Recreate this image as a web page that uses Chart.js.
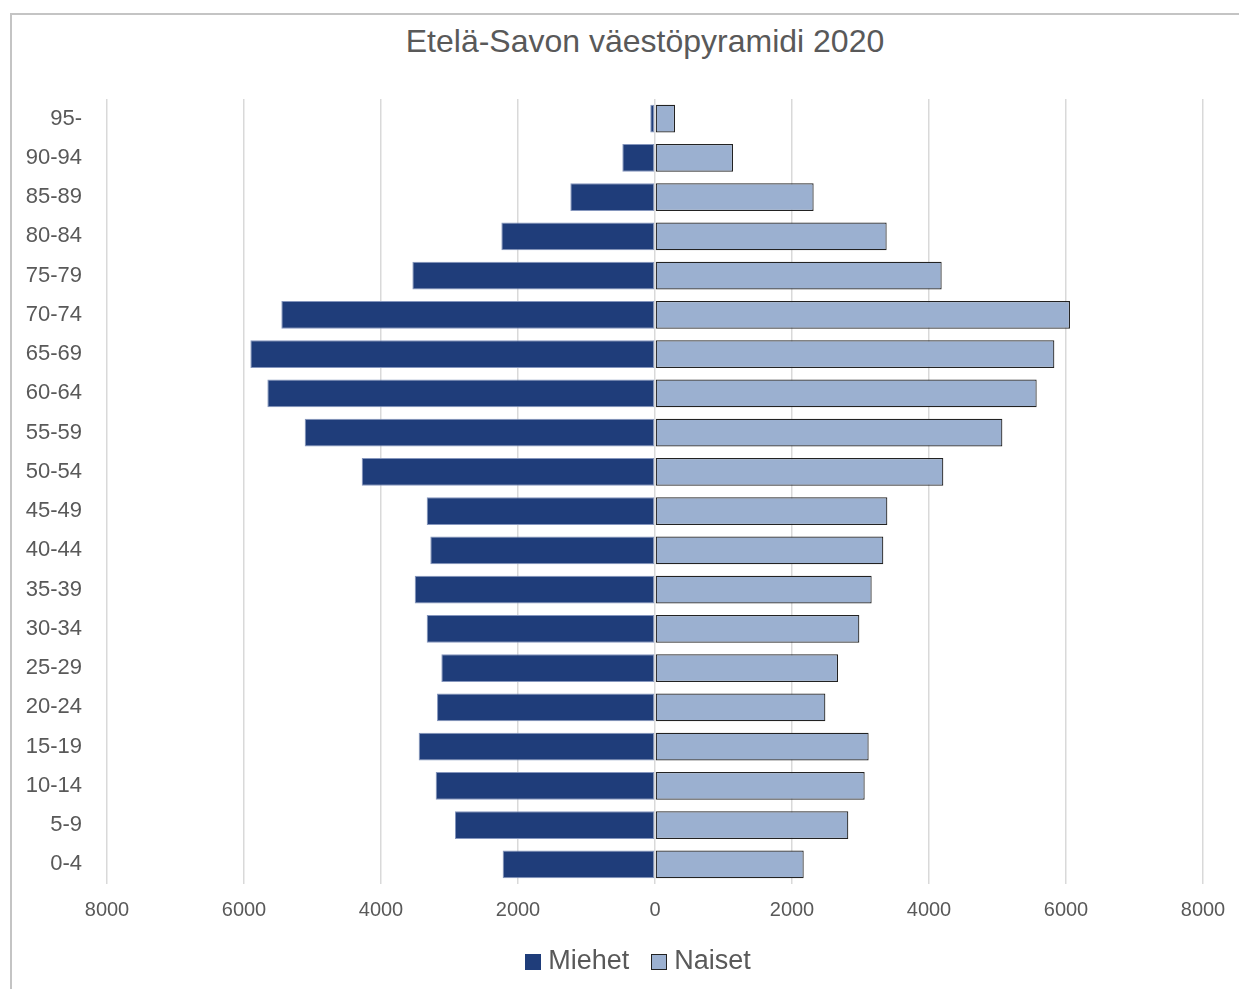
<!DOCTYPE html>
<html lang="fi">
<head>
<meta charset="utf-8">
<title>Etelä-Savon väestöpyramidi 2020</title>
<script src="https://cdn.jsdelivr.net/npm/chart.js@4/dist/chart.umd.min.js"></script>
<style>
    html, body {
        margin: 0;
        padding: 0;
        width: 1239px;
        height: 989px;
        overflow: hidden;
        background: #ffffff;
        font-family: 'Liberation Sans', Arial, sans-serif;
    }
    #frame {
        position: absolute;
        left: 10px;
        top: 13px;
        width: 1300px;
        height: 1000px;
        border-top: 2px solid #c4c4c4;
        border-left: 2px solid #c4c4c4;
    }
    #chartWrap {
        position: absolute;
        left: 12px;
        top: 15px;
        width: 1266px;
        height: 974px;
    }
    #chartTitle {
        position: absolute;
        left: 12px;
        width: 1266px;
        top: 22px;
        text-align: center;
        font-size: 32px;
        line-height: 38px;
        color: #595959;
        white-space: nowrap;
    }
    #legend {
        position: absolute;
        left: 5px;
        width: 1266px;
        top: 945px;
        text-align: center;
        font-size: 27px;
        line-height: 30px;
        color: #595959;
        white-space: nowrap;
    }
    #legend .item {
        display: inline-block;
        margin: 0 11px;
    }
    #legend .box {
        display: inline-block;
        width: 16px;
        height: 16px;
        box-sizing: border-box;
        margin-right: 7px;
        vertical-align: -1px;
    }
</style>
</head>
<body>
<div id="frame"></div>
<div id="chartTitle">Etelä-Savon väestöpyramidi 2020</div>
<div id="chartWrap"><canvas id="pyramid"></canvas></div>
<div id="legend"></div>

<script>
// Age groups, youngest first (the axis is reversed so 95- ends up on top)
const ageGroups = ['0-4', '5-9', '10-14', '15-19', '20-24', '25-29', '30-34', '35-39', '40-44', '45-49',
    '50-54', '55-59', '60-64', '65-69', '70-74', '75-79', '80-84', '85-89', '90-94', '95-'];

// Population by age group
const men = [2224, 2920, 3202, 3450, 3182, 3119, 3333, 3508, 3280, 3333,
    4282, 5114, 5659, 5907, 5455, 3542, 2243, 1236, 477, 69];
const women = [2171, 2822, 3061, 3119, 2487, 2672, 2983, 3163, 3333, 3392,
    4209, 5071, 5572, 5830, 6058, 4185, 3382, 2316, 1139, 292];

const xTicks = [-8000, -6000, -4000, -2000, 0, 2000, 4000, 6000, 8000];

const textColor = '#595959';
const gridColor = '#d9d9d9';

const datasets = [
    {
        label: 'Miehet',
        // men go to the left side of the pyramid
        data: men.map(v => -v),
        backgroundColor: '#1f3d7a',
        borderColor: '#8596bd',
        borderWidth: 1,
        borderSkipped: false
    },
    {
        label: 'Naiset',
        data: women,
        backgroundColor: '#9bb0d0',
        borderColor: '#222222',
        borderWidth: 1.2,
        borderSkipped: false
    }
];

const config = {
    type: 'bar',
    data: { labels: ageGroups, datasets: datasets },
    options: {
        indexAxis: 'y',
        responsive: true,
        maintainAspectRatio: false,
        animation: false,
        layout: {
            padding: { top: 84, right: 75, bottom: 0, left: 0 }
        },
        datasets: {
            bar: {
                barPercentage: 0.71,
                categoryPercentage: 1.0
            }
        },
        plugins: {
            legend: { display: false },
            tooltip: { enabled: false },
            title: { display: false }
        },
        scales: {
            x: {
                stacked: true,
                min: -8000,
                max: 8000,
                afterBuildTicks: (axis) => {
                    axis.ticks = xTicks.map(v => ({ value: v }));
                },
                afterFit: (axis) => { axis.height = 105; },
                grid: {
                    color: gridColor,
                    lineWidth: 1.5,
                    drawTicks: false
                },
                border: { display: false },
                ticks: {
                    color: textColor,
                    padding: 14,
                    font: { family: "'Liberation Sans', Arial, sans-serif", size: 20 },
                    callback: (value) => Math.abs(value)
                }
            },
            y: {
                stacked: true,
                reverse: true,
                afterFit: (axis) => { axis.width = 95; },
                grid: { display: false, drawTicks: false },
                border: { display: false },
                ticks: {
                    color: textColor,
                    padding: 25,
                    font: { family: "'Liberation Sans', Arial, sans-serif", size: 22 }
                }
            }
        }
    }
};

const chart = new Chart(document.getElementById('pyramid'), config);

// Legend drawn as plain HTML so box/text spacing can be set exactly
const legendEl = document.getElementById('legend');
chart.data.datasets.forEach(ds => {
    const item = document.createElement('span');
    item.className = 'item';
    const box = document.createElement('span');
    box.className = 'box';
    box.style.background = ds.backgroundColor;
    if (ds.label === 'Naiset') box.style.border = '1.5px solid #222222';
    item.appendChild(box);
    item.appendChild(document.createTextNode(ds.label));
    legendEl.appendChild(item);
});
</script>
</body>
</html>
